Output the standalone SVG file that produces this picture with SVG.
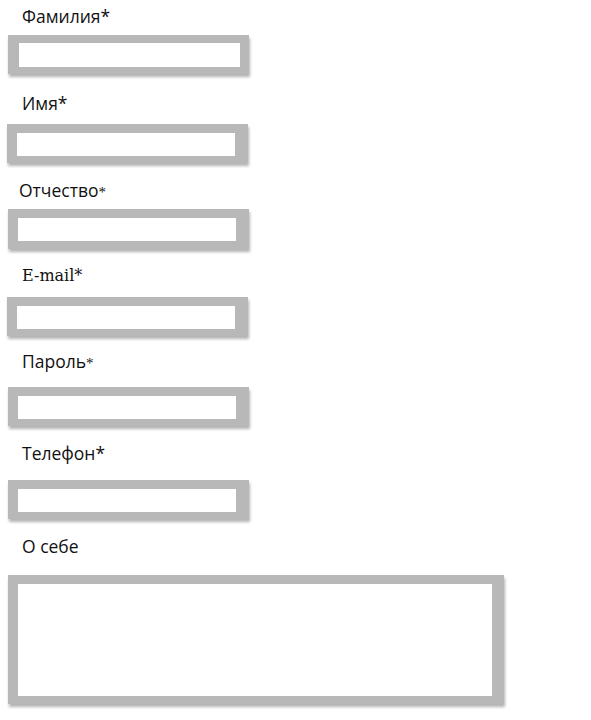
<svg xmlns="http://www.w3.org/2000/svg" width="591" height="720" viewBox="0 0 591 720">
<defs>
<filter id="sh" x="-5%" y="-10%" width="115%" height="130%">
<feGaussianBlur in="SourceAlpha" stdDeviation="1.5"/>
<feOffset dx="1" dy="3" result="b"/>
<feComponentTransfer><feFuncA type="linear" slope="0.3"/></feComponentTransfer>
<feMerge><feMergeNode/><feMergeNode in="SourceGraphic"/></feMerge>
</filter>
</defs>
<style>
.lbl{font-family:"Open Sans","Noto Sans",sans-serif;font-size:17.5px;fill:#111}
.ser{font-family:"Liberation Serif",serif;font-size:15px}
.dser{font-family:"DejaVu Serif",serif;font-size:16px;fill:#111}
.out{fill:#b8b8b8}
.in{fill:#ffffff}
</style>
<rect width="591" height="720" fill="#ffffff"/>
<g id="field-familiya">
<text class="lbl" x="22" y="23">Фамилия*</text>
<g filter="url(#sh)"><rect class="out" x="8" y="35" width="241" height="39"/></g>
<rect class="in" x="19" y="43" width="221" height="24"/>
</g>
<g id="field-imya">
<text class="lbl" x="22" y="110">Имя*</text>
<g filter="url(#sh)"><rect class="out" x="7" y="124" width="241" height="39"/></g>
<rect class="in" x="17" y="133" width="218" height="23"/>
</g>
<g id="field-otchestvo">
<text class="lbl" x="19" y="197">Отчество<tspan class="ser">*</tspan></text>
<g filter="url(#sh)"><rect class="out" x="8" y="209" width="241" height="40"/></g>
<rect class="in" x="18" y="218" width="218" height="23"/>
</g>
<g id="field-email">
<text class="dser" x="22" y="281">E-mail*</text>
<g filter="url(#sh)"><rect class="out" x="7" y="297" width="241" height="39"/></g>
<rect class="in" x="17" y="306" width="218" height="23"/>
</g>
<g id="field-parol">
<text class="lbl" x="22" y="368">Пароль<tspan class="ser">*</tspan></text>
<g filter="url(#sh)"><rect class="out" x="8" y="387" width="241" height="39"/></g>
<rect class="in" x="18" y="396" width="218" height="23"/>
</g>
<g id="field-telefon">
<text class="lbl" x="22" y="460">Телефон*</text>
<g filter="url(#sh)"><rect class="out" x="8" y="480" width="241" height="39"/></g>
<rect class="in" x="18" y="489" width="218" height="23"/>
</g>
<g id="field-o-sebe">
<text class="lbl" x="22" y="553">О себе</text>
<g filter="url(#sh)"><rect class="out" x="8" y="575" width="496" height="129"/></g>
<rect class="in" x="18" y="584" width="474" height="112"/>
</g>
</svg>
